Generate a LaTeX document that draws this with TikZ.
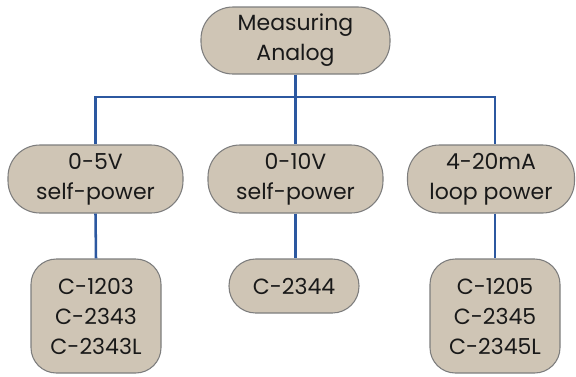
\documentclass[tikz,border=0pt]{standalone}
\usepackage{fontspec}
\setmainfont{Poppins}
\definecolor{boxfill}{RGB}{207,197,181}
\definecolor{boxline}{RGB}{125,125,125}
\definecolor{bluelink}{RGB}{44,88,160}
\definecolor{txt}{RGB}{25,25,25}
\begin{document}
\begin{tikzpicture}[x=0.75pt,y=-0.75pt,
  boxstyle/.style={draw=boxline, line width=0.8pt, fill=boxfill, text=txt, align=center, inner sep=0pt,
    font=\fontsize{16.5}{22.5}\selectfont},
  pill/.style={boxstyle, minimum height=51pt, rounded corners=24pt},
  leaf/.style={boxstyle, minimum width=97.5pt, minimum height=85.5pt, rounded corners=19pt},
  conn/.style={draw=bluelink, line width=1.9pt}]
\useasboundingbox (0,0) rectangle (576,376);
\node[pill, minimum width=141.75pt, minimum height=50.25pt] (top) at (295.5,40.5) {Measuring\\Analog};
\node[pill, minimum width=131.25pt] (lm) at (95.5,179) {0-5V\\self-power};
\node[pill, minimum width=131.25pt] (mm) at (295.5,179) {0-10V\\self-power};
\node[pill, minimum width=125.25pt] (rm) at (491,179) {4-20mA\\loop power};
\node[leaf] (lb) at (96,316) {C-1203\\C-2343\\C-2343L};
\node[leaf, minimum height=40.5pt, rounded corners=20pt] (mb) at (294,286) {C-2344};
\node[leaf] (rb) at (495,316) {C-1205\\C-2345\\C-2345L};
\coordinate (bus) at (0,97);
\draw[conn] (top.south) -- (top.south |- bus);
\draw[conn] (lm.north) -- (lm.north |- bus) -- (rb.north |- bus) -- (rb.north |- rm.north);
\draw[conn] (mm.north) -- (mm.north |- bus);
\draw[conn] (lm.south) -- (lb.north);
\draw[conn] (mm.south) -- (mm.south |- mb.north);
\draw[conn] (rb.north |- rm.south) -- (rb.north);
\end{tikzpicture}
\end{document}
